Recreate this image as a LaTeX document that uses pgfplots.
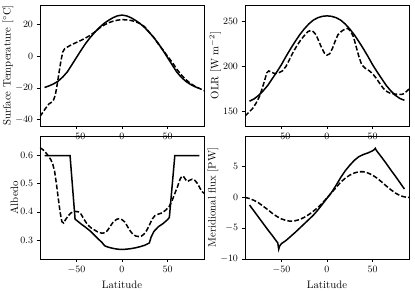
\documentclass[border=0pt]{standalone}
\usepackage{pgfplots}
\pgfplotsset{compat=1.18}
\usepackage{pgfplotstable}

\pgfplotstableread{
lat T
-85 -19.8
-80 -18.8
-75 -17.5
-70 -15.8
-65 -13.2
-60 -10.0
-55 -5.5
-50 -1.0
-45 3.5
-40 7.8
-35 11.5
-30 14.8
-25 17.8
-20 20.3
-15 22.3
-10 24.0
-5 25.2
0 25.7
5 25.2
10 24.0
15 22.3
20 20.3
25 17.8
30 14.8
35 11.5
40 7.8
45 3.5
50 -1.0
55 -5.5
60 -10.0
65 -13.3
70 -15.9
75 -17.8
80 -19.3
85 -20.4
}\tempmodel

\pgfplotstableread{
lat T
-90 -38.0
-87 -35.5
-84 -33.0
-80 -30.0
-77 -29.0
-75 -27.5
-73 -24.0
-71 -17.5
-69 -10.0
-67 -3.0
-65 2.5
-63 4.5
-60 5.6
-55 7.2
-50 8.5
-45 9.8
-40 11.3
-35 12.9
-30 15.0
-25 17.4
-20 19.3
-15 20.8
-10 21.8
-5 22.5
0 22.8
5 22.7
10 22.3
15 21.5
20 20.3
25 18.3
30 14.8
35 11.6
40 7.4
45 3.8
50 -0.2
55 -3.8
60 -8.2
65 -11.8
70 -14.8
75 -17.2
80 -19.0
85 -20.4
90 -21.8
}\tempobs

\pgfplotstableread{
lat O
-85 161.5
-80 164
-75 168
-70 173
-65 179
-60 186.5
-55 194
-50 202
-45 211
-40 219.5
-35 227.5
-30 235
-25 241.5
-20 247
-15 251.3
-10 254
-5 255.5
0 256
5 255.5
10 254
15 251.3
20 247
25 241.5
30 235
35 227.5
40 219.5
45 211
50 202
55 194
60 186.5
65 179
70 173
75 168
80 164.5
85 162.5
}\olrmodel

\pgfplotstableread{
lat O
-90 145
-86 149
-82 153
-78 159
-74 167
-71 176
-68 186
-66 193
-64 195
-61 193.5
-57 192
-53 193
-49 195
-45 200
-41 208
-37 216
-33 223
-29 229
-25 234
-21 238.5
-18 239.8
-15 238.5
-12 235
-9 228
-6 221
-3 215
0 212.5
3 214
6 220
9 228
12 235
16 239
20 241.5
23 242
26 239
29 233
32 222
35 211
38 202
42 198
46 195.5
50 192
54 187
58 181
62 175.5
66 172
70 170
74 169.5
78 169
82 169
85 170
88 173
90 175
}\olrobs

\pgfplotstableread{
lat A
-85 0.6
-57 0.6
-51.5 0.374
-45 0.357
-40 0.345
-35 0.332
-30 0.316
-25 0.300
-22 0.291
-19 0.279
-15 0.274
-10 0.270
-5 0.267
0 0.266
5 0.267
10 0.269
15 0.272
20 0.276
25 0.281
30 0.289
32 0.310
35 0.330
40 0.347
45 0.358
50 0.372
52 0.380
58 0.6
85 0.6
}\albmodel

\pgfplotstableread{
lat A
-90 0.628
-87 0.622
-84 0.612
-81 0.600
-78 0.585
-76 0.570
-74 0.545
-72 0.500
-70 0.450
-68 0.400
-66 0.365
-64 0.360
-62 0.372
-59 0.386
-56 0.396
-52 0.402
-48 0.400
-45 0.392
-42 0.375
-38 0.355
-34 0.343
-30 0.335
-26 0.327
-22 0.324
-19 0.325
-16 0.333
-13 0.348
-10 0.362
-6 0.373
-3 0.376
0 0.372
3 0.364
6 0.348
9 0.332
12 0.320
15 0.314
18 0.312
21 0.313
24 0.320
27 0.333
30 0.352
33 0.373
36 0.386
40 0.392
44 0.396
48 0.406
52 0.420
55 0.440
58 0.465
61 0.490
64 0.518
66 0.527
68 0.524
70 0.514
72 0.508
74 0.512
77 0.516
80 0.512
83 0.500
86 0.482
88 0.472
90 0.466
}\albobs

\pgfplotstableread{
lat F
-85 -1.25
-80 -2.25
-75 -3.25
-70 -4.25
-65 -5.25
-60 -6.2
-56 -7.0
-54 -7.4
-53 -8.4
-52 -7.9
-50 -7.5
-45 -7.0
-40 -6.35
-35 -5.7
-30 -5.0
-25 -4.3
-20 -3.6
-15 -2.9
-10 -2.05
-5 -1.1
0 -0.15
5 0.8
10 1.95
15 3.2
20 4.3
25 5.2
30 6.0
35 6.6
40 6.95
45 7.2
50 7.55
52 7.75
53 7.95
54 7.65
60 6.5
65 5.5
70 4.45
75 3.45
80 2.4
85 1.35
}\fluxmodel

\pgfplotstableread{
lat F
-90 0
-85 -0.2
-80 -0.5
-75 -0.9
-70 -1.45
-65 -2.0
-60 -2.6
-55 -3.1
-50 -3.5
-45 -3.75
-40 -3.88
-35 -3.8
-30 -3.6
-25 -3.25
-20 -2.8
-15 -2.25
-10 -1.65
-5 -0.9
0 -0.1
5 0.75
10 1.6
15 2.45
20 3.1
25 3.6
30 3.95
35 4.15
40 4.15
45 3.95
50 3.6
55 3.1
60 2.5
65 1.85
70 1.25
75 0.7
80 0.3
85 0.07
90 0
}\fluxobs

\pgfplotsset{
  common/.style={
    scale only axis,
    xmin=-90, xmax=90,
    xtick={-50,0,50},
    axis line style={line width=0.6pt},
    tick style={black, line width=0.5pt},
    major tick length=3pt,
    tick align=outside,
    tick pos=left,
    ticklabel style={font=\fontsize{9}{10}\selectfont},
    label style={font=\fontsize{10}{12}\selectfont},
    ylabel shift=-5pt,
  },
  mod/.style={black, line width=1.4pt, no markers, solid},
  obs/.style={black, line width=1.4pt, no markers, dash pattern=on 4.5pt off 2pt},
}

\begin{document}
\begin{tikzpicture}
\path[use as bounding box] (0,0) rectangle (385.95pt,270.63pt);

\begin{axis}[common, at={(37.2pt,153.45pt)}, width=152.5pt, height=112.5pt,
  ymin=-44, ymax=32, ytick={-40,-20,0,20},
  ylabel={Surface Temperature [$^\circ$C]}]
\addplot[mod] table[x=lat,y=T] {\tempmodel};
\addplot[obs] table[x=lat,y=T] {\tempobs};
\end{axis}

\begin{axis}[common, at={(227.85pt,153.45pt)}, width=152.5pt, height=112.5pt,
  ymin=134, ymax=268, ytick={150,200,250},
  ylabel={OLR [W m$^{-2}$]}]
\addplot[mod] table[x=lat,y=O] {\olrmodel};
\addplot[obs] table[x=lat,y=O] {\olrobs};
\end{axis}

\begin{axis}[common, at={(37.2pt,29.76pt)}, width=152.5pt, height=114.4pt,
  ymin=0.232, ymax=0.67, ytick={0.3,0.4,0.5,0.6},
  yticklabel style={/pgf/number format/.cd, fixed, fixed zerofill, precision=1},
  xlabel={Latitude}, ylabel={Albedo}]
\addplot[mod] table[x=lat,y=A] {\albmodel};
\addplot[obs] table[x=lat,y=A] {\albobs};
\end{axis}

\begin{axis}[common, at={(227.85pt,29.76pt)}, width=152.5pt, height=114.4pt,
  ymin=-10, ymax=9.95, ytick={-10,-5,0,5},
  xlabel={Latitude}, ylabel={Meridional flux [PW]}]
\addplot[mod] table[x=lat,y=F] {\fluxmodel};
\addplot[obs] table[x=lat,y=F] {\fluxobs};
\end{axis}
\end{tikzpicture}
\end{document}
